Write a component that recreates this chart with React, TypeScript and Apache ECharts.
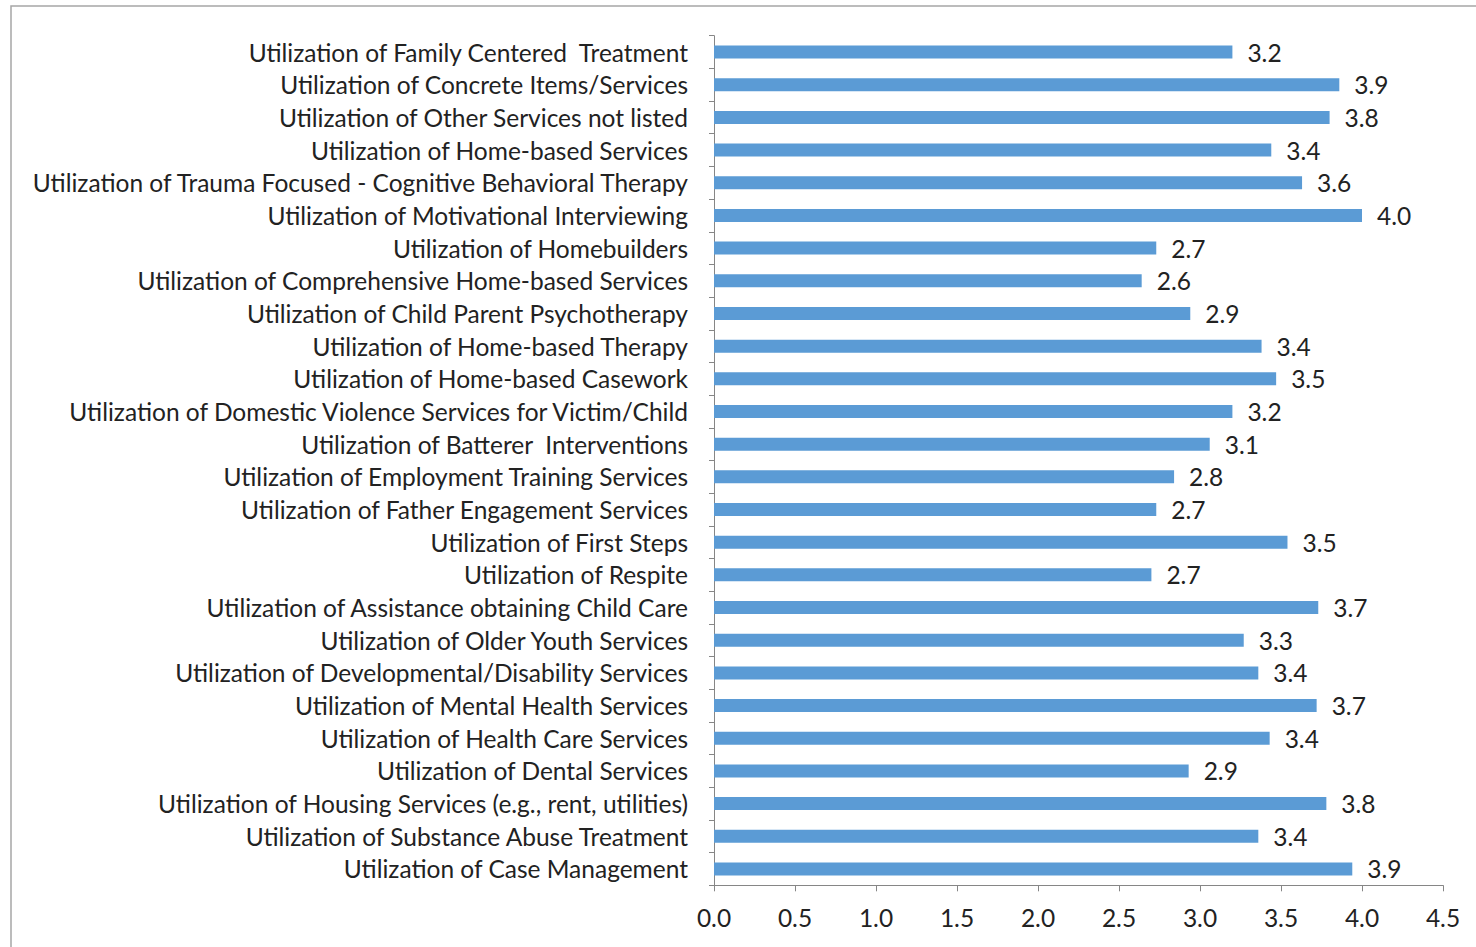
import React, { useEffect, useRef } from "react";
import * as echarts from "echarts";

const categories = [
  "Utilization of Family Centered  Treatment",
  "Utilization of Concrete Items/Services",
  "Utilization of Other Services not listed",
  "Utilization of Home-based Services",
  "Utilization of Trauma Focused - Cognitive Behavioral Therapy",
  "Utilization of Motivational Interviewing",
  "Utilization of Homebuilders",
  "Utilization of Comprehensive Home-based Services",
  "Utilization of Child Parent Psychotherapy",
  "Utilization of Home-based Therapy",
  "Utilization of Home-based Casework",
  "Utilization of Domestic Violence Services for Victim/Child",
  "Utilization of Batterer  Interventions",
  "Utilization of Employment Training Services",
  "Utilization of Father Engagement Services",
  "Utilization of First Steps",
  "Utilization of Respite",
  "Utilization of Assistance obtaining Child Care",
  "Utilization of Older Youth Services",
  "Utilization of Developmental/Disability Services",
  "Utilization of Mental Health Services",
  "Utilization of Health Care Services",
  "Utilization of Dental Services",
  "Utilization of Housing Services (e.g., rent, utilities)",
  "Utilization of Substance Abuse Treatment",
  "Utilization of Case Management",
];

const values = [
  3.2, 3.86, 3.8, 3.44, 3.63, 4.0, 2.73, 2.64, 2.94, 3.38, 3.47, 3.2, 3.06,
  2.84, 2.73, 3.54, 2.7, 3.73, 3.27, 3.36, 3.72, 3.43, 2.93, 3.78, 3.36, 3.94,
];

const xTicks = { min: 0, max: 4.5, interval: 0.5 };

export default function App() {
  const ref = useRef<HTMLDivElement>(null);
  useEffect(() => {
    if (!ref.current) return;
    const chart = echarts.init(ref.current, null, { renderer: "svg" });
    const font = "Lato, 'Open Sans', sans-serif";
    const textColor = "#222222";
    chart.setOption({
      animation: false,
      backgroundColor: "#ffffff",
      graphic: [
        {
          type: "rect",
          shape: { x: 11, y: 6, width: 1480, height: 960 },
          style: { fill: "none", stroke: "#a6a6a6", lineWidth: 1.5 },
          silent: true,
        },
      ],
      grid: { left: 714, right: 33, top: 35.7, bottom: 61.7, containLabel: false },
      xAxis: {
        type: "value",
        min: xTicks.min,
        max: xTicks.max,
        interval: xTicks.interval,
        splitLine: { show: false },
        axisLine: { show: true, lineStyle: { color: "#868686", width: 1 } },
        axisTick: { show: true, length: 6, lineStyle: { color: "#868686" } },
        axisLabel: {
          margin: 20,
          fontSize: 24.5,
          fontFamily: font,
          color: textColor,
          formatter: (v: number) => v.toFixed(1),
        },
      },
      yAxis: {
        type: "category",
        inverse: true,
        data: categories,
        axisLine: { show: true, lineStyle: { color: "#868686", width: 1 } },
        axisTick: { show: true, length: 5, lineStyle: { color: "#868686" } },
        axisLabel: {
          margin: 26,
          fontSize: 24.5,
          fontFamily: font,
          color: textColor,
        },
      },
      series: [
        {
          type: "bar",
          data: values,
          barWidth: 13,
          itemStyle: { color: "#5B9BD5" },
          label: {
            show: true,
            position: "right",
            distance: 15,
            fontSize: 24.5,
            fontFamily: font,
            color: textColor,
            formatter: (p: any) => Number(p.value).toFixed(1),
          },
        },
      ],
    });
    return () => chart.dispose();
  }, []);
  return (
    <div
      ref={ref}
      style={{ position: "fixed", left: 0, top: 0, width: 1476, height: 947 }}
    />
  );
}
